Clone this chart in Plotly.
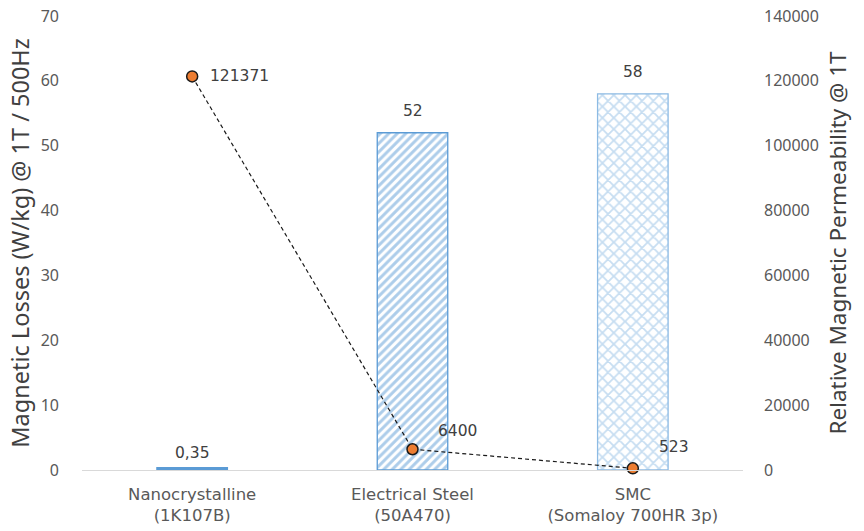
import plotly.graph_objects as go

# Material categories (two-line tick labels)
categories = ["Nanocrystalline<br>(1K107B)", "Electrical Steel<br>(50A470)", "SMC<br>(Somaloy 700HR 3p)"]
# Magnetic losses (W/kg) @ 1T / 500Hz
losses = [0.35, 52, 58]
# Relative magnetic permeability @ 1T
permeability = [121371, 6400, 523]

loss_ticks = [0, 10, 20, 30, 40, 50, 60, 70]
perm_ticks = [0, 20000, 40000, 60000, 80000, 100000, 120000, 140000]

# Per-bar fill styles
bar_fill = ["#5B9BD5", "white", "white"]
bar_edge = ["#5B9BD5", "#5B9BD5", "#8DBBE4"]
bar_shape = ["", "/", "x"]
bar_fg = ["#5B9BD5", "#5B9BD5", "#8DBBE4"]
bar_size = [8, 6, 8]
bar_solidity = [0.4, 0.5, 0.4]

# Offsets (px) of the value labels
loss_label_dy = [4, 11, 11]
perm_label_dx = [16, 23, 24]
perm_label_dy = [0, 18, 21]

label_color = "#404040"
tick_color = "#595959"
label_font = dict(family="DejaVu Sans, sans-serif", size=15.5, color=label_color)

loss_text = [f"{v:g}".replace(".", ",") for v in losses]
perm_text = [str(v) for v in permeability]

fig = go.Figure()

for i, (cat, val) in enumerate(zip(categories, losses)):
    fig.add_trace(go.Bar(
        x=[cat],
        y=[val],
        width=0.32,
        marker=dict(
            color=bar_fill[i],
            line=dict(color=bar_edge[i], width=1.3),
            pattern=dict(
                shape=bar_shape[i],
                fgcolor=bar_fg[i],
                bgcolor="white",
                size=bar_size[i],
                solidity=bar_solidity[i],
            ),
        ),
        showlegend=False,
        yaxis="y",
    ))
    fig.add_annotation(
        x=cat, y=val, xref="x", yref="y",
        text=loss_text[i], showarrow=False,
        yanchor="bottom", yshift=loss_label_dy[i],
        font=label_font,
    )

fig.add_trace(go.Scatter(
    x=categories,
    y=permeability,
    mode="lines+markers",
    line=dict(color="#1a1a1a", width=1.2, dash="4px,3px"),
    marker=dict(size=11, color="#ED7D31", line=dict(color="#1a1a1a", width=1.5)),
    cliponaxis=False,
    showlegend=False,
    yaxis="y2",
))

for i, (cat, val) in enumerate(zip(categories, permeability)):
    fig.add_annotation(
        x=cat, y=val, xref="x", yref="y2",
        text=perm_text[i], showarrow=False,
        xanchor="left", yanchor="middle",
        xshift=perm_label_dx[i], yshift=perm_label_dy[i],
        font=label_font,
    )

fig.update_layout(
    width=864,
    height=531,
    margin=dict(l=82, r=121, t=16, b=61),
    paper_bgcolor="white",
    plot_bgcolor="white",
    barmode="overlay",
    xaxis=dict(
        type="category",
        range=[-0.5, 2.5],
        automargin=False,
        showline=True,
        linecolor="#D9D9D9",
        linewidth=1,
        ticks="",
        showgrid=False,
        ticklabelstandoff=9,
        tickfont=dict(family="DejaVu Sans, sans-serif", size=16.5, color=tick_color),
    ),
    yaxis=dict(
        range=[0, 70],
        tickvals=loss_ticks,
        automargin=False,
        showgrid=False,
        zeroline=False,
        ticks="",
        ticklabelstandoff=22,
        tickfont=dict(family="Noto Sans, sans-serif", size=16, color=tick_color),
        title=dict(
            text="Magnetic Losses (W/kg) @ 1T / 500Hz",
            font=dict(family="Noto Sans, sans-serif", size=23.5, color=label_color),
            standoff=4,
        ),
    ),
    yaxis2=dict(
        range=[0, 140000],
        tickvals=perm_ticks,
        tickformat="d",
        overlaying="y",
        side="right",
        automargin=False,
        showgrid=False,
        zeroline=False,
        ticks="",
        ticklabelstandoff=20,
        tickfont=dict(family="Noto Sans, sans-serif", size=16, color=tick_color),
        title=dict(
            text="Relative Magnetic Permeability @ 1T",
            font=dict(family="Noto Sans, sans-serif", size=22.5, color=label_color),
            standoff=12,
        ),
    ),
)

fig.write_html("out.html")
